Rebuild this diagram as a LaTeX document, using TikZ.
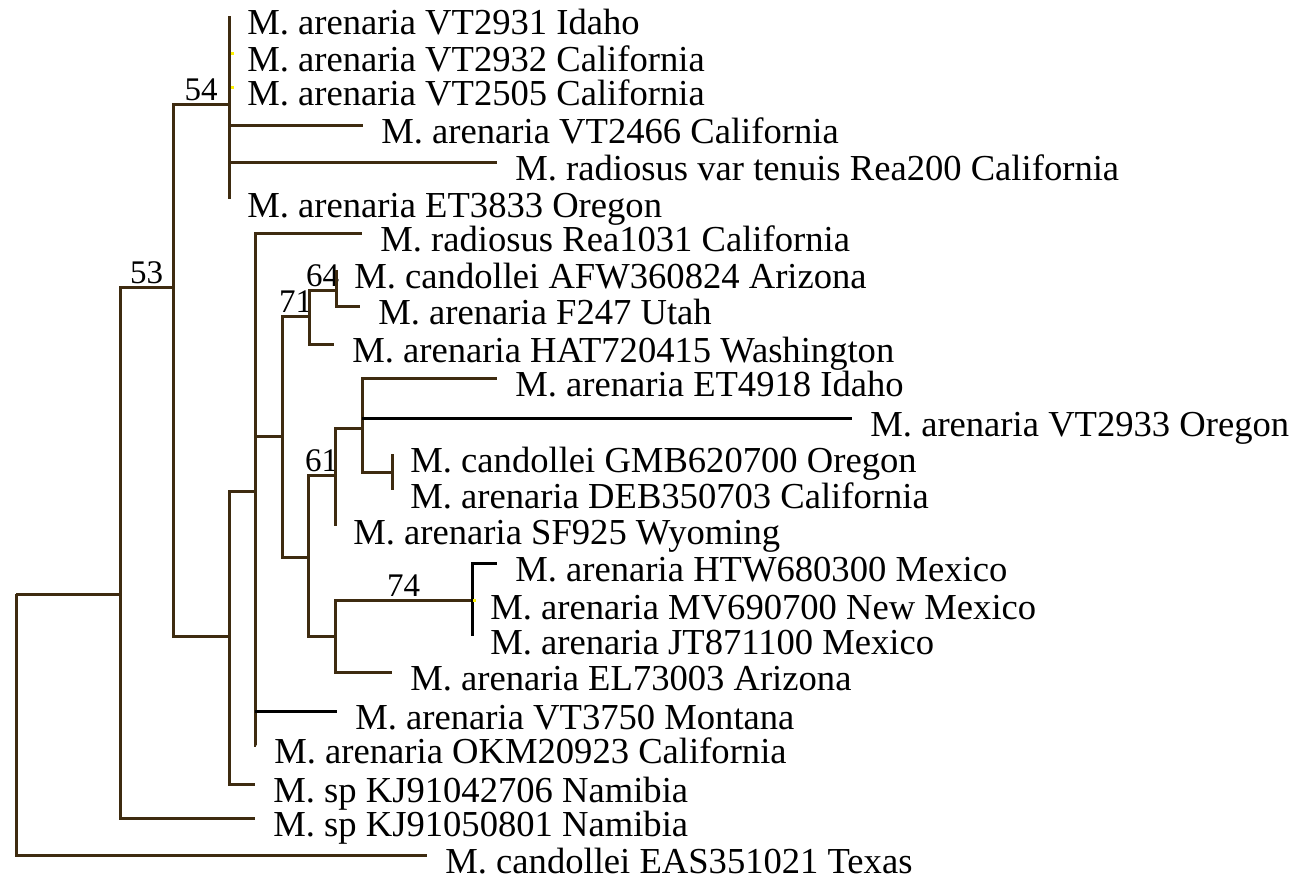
\documentclass[tikz,border=0pt]{standalone}
\usepackage{fontspec}
\setmainfont{Liberation Serif}
\usepackage{tikz}
\definecolor{treebrown}{RGB}{62,43,16}

\begin{document}
\begin{tikzpicture}[x=0.5pt,y=-0.5pt,
  branch/.style={draw=treebrown,line width=1.5pt},
  blackbranch/.style={draw=black,line width=1.5pt},
  taxon/.style={anchor=base west,inner sep=0pt,xshift=9pt,yshift=-9pt,font=\fontsize{18.3}{20}\selectfont},
  support/.style={pos=0.75,above,inner sep=1pt,font=\fontsize{16.5}{17}\selectfont}]
  \useasboundingbox (0,0) rectangle (1304,880);

  % inner nodes
  \coordinate (root) at (16,594);
  \coordinate (nA) at (120,594);
  \coordinate (n53) at (173,287);
  \coordinate (n54) at (229,104);
  \coordinate (nD) at (229,636);
  \coordinate (nE) at (255,491);
  \coordinate (nF) at (282,436);
  \coordinate (n71) at (309,316);
  \coordinate (n64) at (336,290);
  \coordinate (nK) at (308,557);
  \coordinate (n61) at (335,475);
  \coordinate (nL) at (362,428);
  \coordinate (nM) at (392,472);
  \coordinate (nJ) at (335,636);
  \coordinate (n74) at (472,600);

  % tips
  \coordinate (t1) at (229,16);
  \coordinate (t2) at (229,53);
  \coordinate (t3) at (229,87);
  \coordinate (t4) at (363,125);
  \coordinate (t5) at (497,162);
  \coordinate (t6) at (229,199);
  \coordinate (t7) at (362,233);
  \coordinate (t8) at (336,270);
  \coordinate (t9) at (360,306);
  \coordinate (t10) at (334,344);
  \coordinate (t11) at (497,378);
  \coordinate (t12) at (852,418);
  \coordinate (t13) at (392,454);
  \coordinate (t14) at (392,490);
  \coordinate (t15) at (335,526);
  \coordinate (t16) at (497,563);
  \coordinate (t17) at (472,601);
  \coordinate (t18) at (472,636);
  \coordinate (t19) at (392,672);
  \coordinate (t20) at (337,711);
  \coordinate (t21) at (256,745);
  \coordinate (t22) at (255,784);
  \coordinate (t23) at (255,818);
  \coordinate (t24) at (427,855);

  % branches
  \draw[branch] (root) |- (nA);
  \draw[branch] (root) |- (t24);
  \draw[branch] (nA) |- (n53) node[support] {53};
  \draw[branch] (nA) |- (t23);
  \draw[branch] (n53) |- (n54) node[support] {54};
  \draw[branch] (n53) |- (nD);
  \foreach \t in {t1,t2,t3,t4,t5,t6}
    \draw[branch] (n54) |- (\t);
  \draw[branch] (nD) |- (nE);
  \draw[branch] (nD) |- (t22);
  \foreach \t in {t7,nF,t21}
    \draw[branch] (nE) |- (\t);
  \draw[blackbranch] (nE |- t20) -- (t20);
  \draw[branch] (nF) |- (n71) node[support] {71};
  \draw[branch] (nF) |- (nK);
  \draw[branch] (n71) |- (n64) node[support] {64};
  \draw[branch] (n71) |- (t10);
  \draw[branch] (n64) |- (t8);
  \draw[branch] (n64) |- (t9);
  \draw[branch] (nK) |- (n61) node[support] {61};
  \draw[branch] (nK) |- (nJ);
  \draw[branch] (n61) |- (nL);
  \draw[branch] (n61) |- (t15);
  \draw[branch] (nL) |- (t11);
  \draw[branch] (nL) |- (nM);
  \draw[blackbranch] (nL |- t12) -- (t12);
  \draw[branch] (nM) |- (t13);
  \draw[branch] (nM) |- (t14);
  \draw[branch] (nJ) |- (n74) node[support] {74};
  \draw[branch] (nJ) |- (t19);
  \foreach \t in {t16,t17,t18}
    \draw[blackbranch] (n74) |- (\t);

  % small yellow marks
  \fill[yellow] (231,52) rectangle (234,55);
  \fill[yellow] (231,86) rectangle (234,89);
  \fill[yellow] (473,599) rectangle (476,602);

  % taxa
  \node[taxon] (l1) at (t1) {M. arenaria VT2931 Idaho};
  \node[taxon] (l2) at (t2) {M. arenaria VT2932 California};
  \node[taxon] (l3) at (t3) {M. arenaria VT2505 California};
  \node[taxon] (l4) at (t4) {M. arenaria VT2466 California};
  \node[taxon] (l5) at (t5) {M. radiosus var tenuis Rea200 California};
  \node[taxon] (l6) at (t6) {M. arenaria ET3833 Oregon};
  \node[taxon] (l7) at (t7) {M. radiosus Rea1031 California};
  \node[taxon] (l8) at (t8) {M. candollei AFW360824 Arizona};
  \node[taxon] (l9) at (t9) {M. arenaria F247 Utah};
  \node[taxon] (l10) at (t10) {M. arenaria HAT720415 Washington};
  \node[taxon] (l11) at (t11) {M. arenaria ET4918 Idaho};
  \node[taxon] (l12) at (t12) {M. arenaria VT2933 Oregon};
  \node[taxon] (l13) at (t13) {M. candollei GMB620700 Oregon};
  \node[taxon] (l14) at (t14) {M. arenaria DEB350703 California};
  \node[taxon] (l15) at (t15) {M. arenaria SF925 Wyoming};
  \node[taxon] (l16) at (t16) {M. arenaria HTW680300 Mexico};
  \node[taxon] (l17) at (t17) {M. arenaria MV690700 New Mexico};
  \node[taxon] (l18) at (t18) {M. arenaria JT871100 Mexico};
  \node[taxon] (l19) at (t19) {M. arenaria EL73003 Arizona};
  \node[taxon] (l20) at (t20) {M. arenaria VT3750 Montana};
  \node[taxon] (l21) at (t21) {M. arenaria OKM20923 California};
  \node[taxon] (l22) at (t22) {M. sp KJ91042706 Namibia};
  \node[taxon] (l23) at (t23) {M. sp KJ91050801 Namibia};
  \node[taxon] (l24) at (t24) {M. candollei EAS351021 Texas};
\end{tikzpicture}
\end{document}
